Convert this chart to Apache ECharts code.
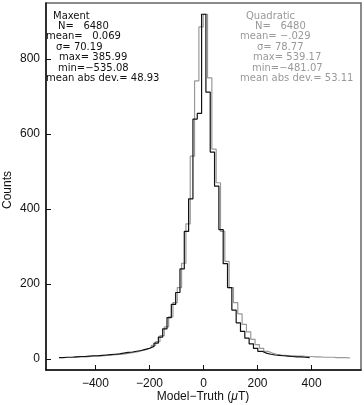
<!DOCTYPE html>
<html>
<head>
<meta charset="utf-8">
<script src="https://cdn.jsdelivr.net/npm/echarts@6/dist/echarts.min.js"></script>
<style>
  html, body { margin: 0; padding: 0; background: #fff; }
  #main { width: 364px; height: 405px; }
</style>
</head>
<body>
<div id="main"></div>
<script>
// histogram bins: width 16, each series starts at its own data minimum
var binWidth = 16;
var maxentMin = -535.08;
var quadMin = -481.07;

// Maxent counts, from left bin upward
var maxentCounts = [3, 4, 4, 5, 6, 6, 7, 8, 8, 9, 10, 11, 12, 13, 15, 17, 18, 20, 22, 25, 28, 33, 42, 58, 80,
    110, 145, 177, 240, 340, 427, 640, 655, 920,
    712, 552, 461, 345, 254, 190, 130, 96, 73, 55, 40, 28, 20, 15, 12, 10, 9, 8, 7, 6, 5, 5, 4, 3];

// Quadratic counts, from left bin upward
var quadCounts = [4, 5, 5, 6, 7, 7, 8, 9, 10, 11, 12, 13, 15, 17, 19, 22, 25, 30, 36, 46, 62, 85, 112, 150, 190, 255, 360, 541, 742, 886,
    920,
    750, 560, 470, 340, 260, 190, 150, 120, 92, 72, 52, 38, 28, 20, 15, 12, 10, 9, 8, 8, 7, 7, 6, 6, 5, 5, 4, 4, 4, 3, 3, 3, 2];

var xTicks = [-400, -200, 0, 200, 400];
var yTicks = [0, 200, 400, 600, 800];

var maxentStats = ['Maxent', 'N=   6480', 'mean=   0.069', '\u03c3= 70.19', 'max= 385.99', 'min=\u2212535.08', 'mean abs dev.= 48.93'];
var quadStats = ['Quadratic', 'N=   6480', 'mean= \u2212.029', '\u03c3= 78.77', 'max= 539.17', 'min=\u2212481.07', 'mean abs dev.= 53.11'];

function stepData(start, counts) {
    var pts = [];
    counts.forEach(function (c, i) {
        pts.push([start + i * binWidth, c]);
    });
    pts.push([start + counts.length * binWidth, counts[counts.length - 1]]);
    return pts;
}

var font = 'Liberation Sans, Arial, sans-serif';
var statFont = '10px DejaVu Sans, sans-serif';
var lineY = [16, 26.3, 36.5, 47, 57.5, 68, 78.5];

function statBlock(lines, xs, color) {
    return lines.map(function (s, i) {
        return {
            type: 'text', x: xs[i], y: lineY[i],
            style: { text: s, fill: color, font: statFont, verticalAlign: 'middle' }
        };
    });
}

var chart = echarts.init(document.getElementById('main'));
chart.setOption({
    animation: false,
    grid: {
        left: 46, right: 3, top: 3, bottom: 35,
        show: true, borderColor: '#666', borderWidth: 1.5
    },
    xAxis: {
        type: 'value', min: -583, max: 583,
        splitLine: { show: false },
        axisLine: { show: true, onZero: false, lineStyle: { color: '#111', width: 1.5 } },
        axisTick: { show: true, inside: true, length: 5, customValues: xTicks, lineStyle: { color: '#111' } },
        axisLabel: {
            customValues: xTicks, color: '#111', fontSize: 12, fontFamily: font, margin: 8,
            formatter: function (v) { return v < 0 ? '\u2212' + Math.abs(v) : String(v); }
        }
    },
    yAxis: {
        type: 'value', min: -30, max: 950,
        splitLine: { show: false },
        axisLine: { show: true, onZero: false, lineStyle: { color: '#111', width: 1.5 } },
        axisTick: { show: true, inside: true, length: 5, customValues: yTicks, lineStyle: { color: '#111' } },
        axisLabel: { customValues: yTicks, color: '#111', fontSize: 12, fontFamily: font, margin: 6 }
    },
    series: [
        {
            name: 'Quadratic', type: 'line', step: 'end', showSymbol: false,
            data: stepData(quadMin, quadCounts),
            lineStyle: { color: '#999', width: 1.2 }
        },
        {
            name: 'Maxent', type: 'line', step: 'end', showSymbol: false,
            data: stepData(maxentMin, maxentCounts),
            lineStyle: { color: '#111', width: 1.2 }
        }
    ],
    graphic: [].concat(
        statBlock(maxentStats, [53, 58, 46, 56, 59, 58, 46], '#111'),
        statBlock(quadStats, [246, 255, 240, 257, 253, 252, 240], '#999'),
        [
            {
                type: 'text', x: 8, y: 190, rotation: Math.PI / 2,
                style: { text: 'Counts', fill: '#111', font: '12px ' + font, align: 'center', verticalAlign: 'middle' }
            },
            {
                type: 'text', x: 203, y: 397,
                style: {
                    text: 'Model\u2212Truth ({it|\u03bc}T)', fill: '#111', font: '12px ' + font,
                    align: 'center', verticalAlign: 'middle',
                    rich: { it: { fontStyle: 'italic', fontSize: 12, fontFamily: font, fill: '#111' } }
                }
            }
        ]
    )
});
</script>
</body>
</html>
